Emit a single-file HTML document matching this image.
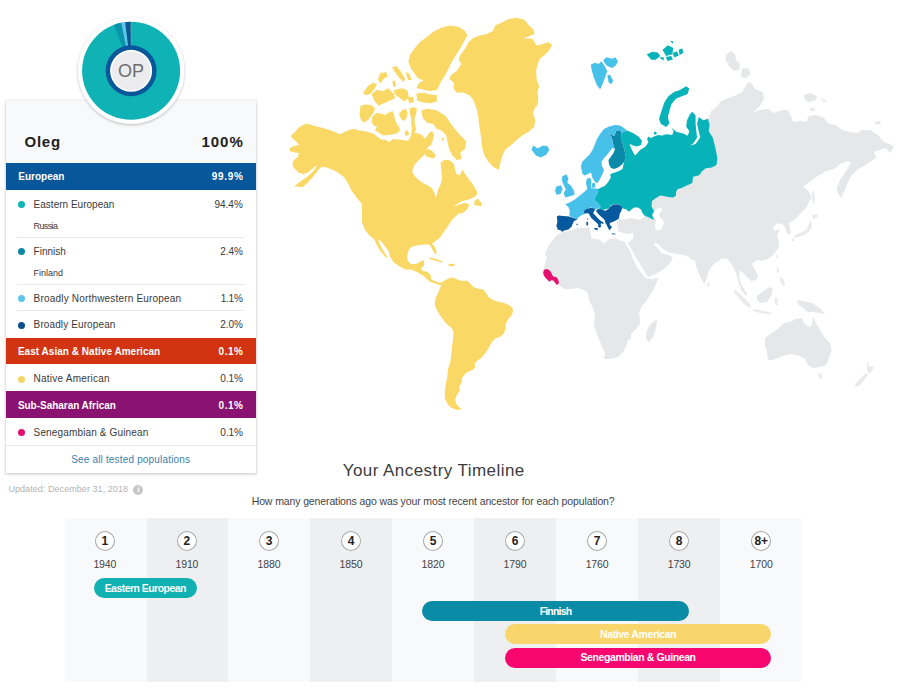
<!DOCTYPE html>
<html lang="en"><head><meta charset="utf-8"><title>Ancestry Composition</title>
<style>
html,body{margin:0;padding:0;background:#fff}
body{width:900px;height:692px;position:relative;overflow:hidden;font-family:"Liberation Sans",sans-serif}
.t{position:absolute;white-space:nowrap;line-height:20px;display:block}
.panel{position:absolute;background:#f8f9fa;box-shadow:0 0 0 1.5px rgba(0,0,0,.055),0 1.5px 3px rgba(0,0,0,.13)}
.rows{position:absolute;background:#fff}
.bar{position:absolute}
.sep{position:absolute;height:1px;background:#e9e9e9}
.dot{position:absolute;width:7px;height:7px;border-radius:50%}
.col{position:absolute}
.gen{position:absolute;width:20px;height:20px;border-radius:50%;background:#fff;box-shadow:inset 0 0 0 1px #a6a6a6}
.pill{position:absolute;height:20px;border-radius:10px}
.info{position:absolute;width:10.2px;height:10.2px;border-radius:50%;background:#c6c6c6;color:#fff;font-size:8px;font-weight:bold;line-height:10.2px;text-align:center;font-family:"Liberation Serif",serif}
svg.full{position:absolute;left:0;top:0}
</style></head>
<body>
<svg class="full" width="900" height="692" viewBox="0 0 900 692">
<defs><filter id="ds" x="-20%" y="-20%" width="140%" height="140%"><feGaussianBlur in="SourceAlpha" stdDeviation="1.6"/><feOffset dy="1"/><feComponentTransfer><feFuncA type="linear" slope="0.28"/></feComponentTransfer><feMerge><feMergeNode/><feMergeNode in="SourceGraphic"/></feMerge></filter></defs>
<g id="map"><path d="M306.5,123.5 L313.0,125.5 L321.0,127.5 L328.0,129.5 L335.0,132.0 L339.5,134.2 L343.0,132.8 L348.0,130.5 L352.0,129.2 L355.0,128.8 L357.5,130.0 L361.0,130.8 L366.0,131.5 L373.0,133.5 L377.5,136.8 L381.0,139.5 L386.0,140.0 L389.0,142.0 L393.0,139.0 L398.0,139.5 L403.0,140.0 L408.0,141.0 L410.5,137.0 L411.5,133.0 L412.0,128.0 L411.0,123.0 L411.5,119.0 L410.0,114.0 L409.5,108.5 L414.0,107.0 L417.0,109.0 L416.0,114.0 L414.5,119.0 L415.0,124.0 L416.0,129.0 L414.5,133.0 L419.0,133.5 L422.0,135.0 L425.0,139.0 L429.0,133.0 L432.0,131.0 L434.0,135.0 L433.0,140.0 L431.0,145.0 L428.0,147.0 L426.0,150.0 L424.0,155.0 L420.0,159.0 L415.0,164.0 L412.1,171.2 L414.9,176.6 L421.2,182.1 L427.4,185.2 L432.1,188.3 L434.4,193.0 L436.0,197.7 L438.2,189.3 L440.6,184.6 L442.1,178.4 L441.4,170.6 L440.6,162.5 L444.5,160.1 L449.2,160.0 L453.8,163.6 L454.6,166.7 L456.2,173.7 L460.1,175.3 L461.7,170.9 L462.4,169.8 L467.1,176.8 L471.8,183.1 L474.9,187.7 L477.3,192.4 L476.5,195.6 L473.4,197.4 L468.7,199.5 L462.4,201.0 L457.7,203.4 L453.8,206.5 L459.3,204.6 L465.6,202.7 L469.5,204.9 L467.1,209.6 L462.4,213.5 L460.1,212.7 L456.2,215.8 L451.5,220.5 L448.4,225.2 L445.3,229.9 L442.1,234.6 L439.8,238.0 L439.9,237.5 L435.2,241.4 L432.0,243.5 L434.2,246.0 L435.8,249.0 L436.8,252.0 L436.2,254.0 L434.8,253.6 L433.2,251.0 L431.6,248.0 L430.2,245.6 L428.8,244.6 L424.3,244.5 L418.0,245.3 L411.8,246.8 L408.7,249.9 L407.1,256.2 L407.9,260.9 L411.0,264.0 L416.5,264.0 L419.6,261.7 L424.3,260.1 L423.8,265.6 L421.2,268.7 L422.7,271.0 L427.4,271.8 L430.5,274.9 L431.3,279.6 L435.2,281.2 L439.9,282.7 L442.2,281.9 L443.3,281.2 L447.7,278.8 L452.0,277.5 L457.5,279.4 L462.1,280.9 L466.8,280.6 L469.9,283.3 L473.8,287.2 L478.5,288.7 L483.2,289.5 L486.3,293.4 L488.7,297.3 L494.1,300.4 L499.6,302.0 L505.8,303.6 L510.5,305.9 L513.2,309.8 L512.1,314.5 L508.2,319.2 L505.8,323.8 L505.5,329.3 L503.5,334.0 L499.6,337.1 L494.9,338.7 L491.0,343.4 L488.7,348.0 L485.6,352.7 L481.7,357.4 L477.7,360.5 L474.6,363.6 L475.4,367.5 L472.3,369.9 L468.4,371.5 L465.3,373.8 L462.1,378.0 L461.4,382.8 L459.0,387.5 L459.8,390.6 L456.7,395.3 L455.1,399.9 L456.7,404.6 L459.8,407.7 L462.1,409.0 L456.7,410.1 L451.2,407.7 L447.3,403.8 L445.0,398.4 L444.7,392.1 L445.8,384.3 L447.3,376.5 L448.1,368.7 L450.4,362.1 L451.2,354.3 L452.0,346.5 L453.1,338.7 L453.6,332.4 L452.0,328.5 L447.3,324.6 L443.4,319.9 L439.5,314.5 L436.4,309.0 L434.8,304.3 L435.6,298.1 L437.9,293.4 L440.3,287.2 L441.9,283.3 L441.5,285.1 L439.1,285.1 L435.2,283.5 L430.5,281.9 L427.4,279.6 L424.3,276.5 L419.6,273.4 L414.9,271.0 L410.2,269.5 L405.6,269.5 L399.3,266.3 L393.8,262.4 L389.9,256.2 L388.7,251.3 L385.3,247.0 L382.0,242.3 L380.0,240.3 L378.3,239.6 L378.7,241.3 L380.1,244.8 L382.1,248.8 L384.6,252.8 L387.1,256.5 L386.3,257.9 L383.3,254.6 L380.7,251.3 L378.0,247.3 L376.0,243.3 L374.5,239.6 L373.6,239.0 L368.9,235.1 L365.0,229.7 L361.9,221.9 L361.9,214.0 L362.0,204.0 L357.0,198.0 L351.0,190.0 L349.0,185.0 L344.0,177.0 L341.0,175.0 L337.0,172.0 L333.0,170.0 L328.0,168.0 L323.0,166.5 L320.0,168.0 L316.0,173.0 L312.0,178.0 L308.5,182.0 L303.0,187.0 L294.0,186.5 L301.0,181.0 L307.0,177.0 L312.0,172.5 L317.5,165.5 L315.0,166.5 L311.0,170.0 L307.0,173.0 L303.0,174.0 L298.5,172.5 L296.0,170.0 L293.0,167.0 L292.5,163.0 L294.5,159.5 L298.0,157.0 L299.0,153.0 L295.0,152.5 L290.5,151.5 L289.0,148.5 L294.0,146.0 L299.0,145.0 L297.0,142.0 L293.0,139.0 L290.5,136.0 L295.0,132.0 L298.0,128.5 L302.0,125.5Z" fill="#fad865"/>
<path d="M421.2,110.3 L427.4,108.7 L436.8,110.3 L446.1,116.5 L452.4,125.9 L460.2,135.3 L466.4,141.5 L464.9,149.3 L460.2,152.4 L461.7,158.7 L457.1,160.2 L452.4,155.6 L449.3,149.3 L447.7,143.1 L446.1,135.3 L441.5,130.6 L436.8,129.0 L433.6,124.3 L427.4,122.8 L422.7,118.1Z" fill="#fad865"/>
<path d="M360.5,106.0 L365.0,104.5 L371.0,105.0 L375.0,108.0 L374.0,112.0 L371.0,116.0 L368.0,120.0 L364.0,122.5 L361.0,120.0 L359.5,115.0Z" fill="#fad865"/>
<path d="M372.5,116.5 L376.0,113.0 L381.0,113.5 L385.0,115.0 L389.0,112.5 L392.5,111.0 L394.0,115.0 L395.0,120.0 L397.5,125.0 L400.0,128.0 L399.0,132.0 L395.0,134.0 L389.0,135.0 L383.0,135.5 L379.0,133.0 L375.0,130.0 L377.0,127.0 L373.0,125.0 L371.5,121.0Z" fill="#fad865"/>
<path d="M399.0,114.0 L402.0,110.0 L406.0,109.0 L407.5,113.0 L406.5,118.0 L404.0,121.0 L401.0,119.0Z" fill="#fad865"/>
<path d="M404.5,131.0 L408.0,130.5 L409.0,135.0 L405.5,136.0Z" fill="#fad865"/>
<path d="M425.0,150.3 L428.3,149.0 L432.3,151.0 L435.7,155.0 L434.3,158.3 L430.3,158.0 L426.3,156.3 L424.3,153.7Z" fill="#fad865"/>
<path d="M441.7,138.3 L444.0,138.0 L444.3,140.3 L442.0,140.7Z" fill="#fad865"/>
<path d="M363.1,93.0 L367.9,86.0 L373.5,82.5 L377.0,84.6 L373.5,90.2 L369.4,94.4 L365.1,95.0Z" fill="#fad865"/>
<path d="M371.5,94.0 L377.2,89.7 L382.7,91.2 L388.3,88.3 L393.8,94.0 L395.2,98.1 L389.7,100.8 L382.7,103.7 L378.5,105.7 L374.3,100.8Z" fill="#fad865"/>
<path d="M393.4,90.3 L401.8,88.3 L407.4,90.3 L408.8,97.3 L404.5,101.4 L399.0,97.3 L394.9,94.6Z" fill="#fad865"/>
<path d="M416.4,93.6 L423.6,92.7 L430.7,94.4 L436.9,95.3 L436.9,101.6 L430.7,103.3 L423.6,102.4 L417.3,100.7Z" fill="#fad865"/>
<path d="M407.7,97.3 L413.2,96.7 L414.0,102.2 L409.1,102.9Z" fill="#fad865"/>
<path d="M392.0,67.0 L396.9,66.3 L401.0,71.8 L405.1,78.8 L403.8,82.3 L398.9,77.5 L394.8,71.8Z" fill="#fad865"/>
<path d="M405.6,72.5 L409.0,73.3 L411.8,79.5 L408.3,80.3Z" fill="#fad865"/>
<path d="M380.1,73.0 L386.3,72.3 L387.7,76.5 L383.6,78.7 L380.7,83.4 L377.9,80.0Z" fill="#fad865"/>
<path d="M392.5,81.2 L395.2,80.5 L396.0,86.1 L393.2,86.7Z" fill="#fad865"/>
<path d="M410.2,54.4 L414.7,48.2 L420.0,42.0 L427.1,36.7 L434.2,31.3 L441.3,27.8 L450.2,25.6 L459.1,26.9 L464.4,30.4 L467.6,34.9 L464.4,41.1 L460.9,47.3 L456.4,54.4 L452.0,61.6 L448.4,68.7 L444.9,75.8 L441.3,81.1 L438.7,86.4 L436.9,90.0 L428.9,90.9 L420.9,89.1 L416.4,88.2 L419.1,82.9 L423.6,80.2 L418.2,78.4 L414.7,74.0 L411.1,68.7 L408.4,61.6Z" fill="#fad865"/>
<path d="M474.9,200.2 L478.0,198.7 L481.2,202.6 L481.9,206.5 L478.0,205.7 L474.1,204.9Z" fill="#fad865"/>
<path d="M429.0,257.7 L435.2,258.5 L441.5,260.9 L443.8,262.4 L439.9,262.1 L433.6,260.1 L429.7,259.3Z" fill="#fad865"/>
<path d="M448.5,263.7 L453.9,264.0 L455.5,265.6 L451.6,266.3 L448.5,265.6Z" fill="#fad865"/>
<path d="M468.9,41.7 L473.6,37.8 L479.8,35.4 L486.8,33.9 L493.1,30.8 L495.4,25.3 L502.4,22.2 L508.7,19.0 L516.5,17.8 L524.3,19.8 L528.2,24.5 L533.6,30.0 L534.4,33.9 L529.0,36.2 L522.7,38.6 L532.1,38.6 L536.8,45.6 L543.0,44.0 L547.7,42.1 L552.1,44.8 L549.3,50.3 L544.6,54.9 L539.9,58.8 L537.5,64.3 L536.0,72.1 L536.8,79.9 L539.1,86.2 L537.5,92.4 L538.3,98.6 L537.5,104.9 L535.2,107.2 L532.9,113.4 L535.2,119.7 L534.4,126.7 L529.0,131.4 L522.7,135.3 L516.5,139.9 L511.8,144.6 L505.6,149.3 L502.4,155.6 L500.1,163.4 L499.0,169.9 L493.8,167.3 L488.4,161.8 L484.5,155.6 L482.1,147.7 L481.4,139.9 L480.3,132.1 L479.0,124.3 L478.2,116.5 L476.7,108.7 L473.6,100.9 L473.6,100.2 L469.7,95.5 L463.4,92.4 L456.4,92.4 L453.3,87.7 L454.0,83.0 L449.4,79.1 L450.9,75.2 L457.2,70.6 L461.1,64.3 L458.7,59.6 L460.3,54.9 L465.0,48.7Z" fill="#fad865"/>
<path d="M708.0,118.7 L709.6,115.6 L711.2,110.9 L717.4,106.2 L720.5,101.5 L726.8,98.4 L736.1,95.3 L742.4,92.1 L745.5,85.9 L748.6,82.0 L751.7,83.6 L754.9,89.0 L762.7,92.1 L764.2,98.4 L759.5,106.2 L753.3,112.4 L760.0,110.0 L768.0,109.0 L774.0,113.0 L782.0,110.0 L788.0,110.0 L791.0,116.0 L793.0,122.0 L800.0,121.0 L806.0,122.0 L809.0,116.0 L816.0,115.0 L824.0,118.0 L829.0,124.0 L836.0,125.0 L842.0,130.0 L850.0,132.0 L858.0,133.0 L862.0,130.0 L870.0,130.0 L878.0,135.0 L884.0,142.0 L890.0,144.0 L894.0,147.0 L890.0,153.0 L886.0,148.0 L880.0,150.0 L874.0,152.0 L876.0,158.0 L870.0,162.0 L864.0,166.0 L858.0,169.0 L852.0,175.0 L848.0,182.0 L845.0,190.0 L841.0,198.0 L839.0,195.0 L837.0,190.0 L838.0,196.0 L837.0,188.0 L840.0,180.0 L844.0,174.0 L848.0,168.0 L851.0,162.4 L848.0,161.0 L840.0,164.0 L834.0,169.0 L826.0,171.0 L816.0,177.0 L808.0,183.0 L803.0,187.0 L808.0,190.0 L812.0,198.0 L810.0,200.0 L806.0,208.0 L800.0,214.0 L794.0,220.0 L789.0,223.0 L790.0,228.0 L791.0,233.0 L788.0,235.0 L786.0,230.0 L784.0,225.0 L778.0,223.0 L773.0,227.0 L775.0,231.0 L780.0,229.0 L777.0,236.0 L779.0,242.0 L778.0,248.0 L774.0,254.0 L768.0,259.0 L762.0,261.0 L758.0,260.0 L755.0,261.0 L752.0,264.0 L755.0,270.0 L758.0,275.0 L756.0,280.0 L751.0,281.0 L748.0,278.0 L744.0,274.0 L740.0,270.0 L739.0,276.0 L741.0,284.0 L744.0,289.0 L747.0,294.0 L746.0,296.0 L742.0,291.0 L739.0,284.0 L737.0,276.0 L734.0,268.0 L731.0,264.0 L728.0,259.0 L724.0,258.0 L720.0,259.0 L720.0,260.0 L714.0,264.0 L709.0,270.0 L707.0,278.0 L704.4,284.0 L703.0,282.0 L699.0,274.0 L696.0,266.0 L695.0,260.0 L692.0,260.0 L689.0,257.0 L684.0,255.0 L676.0,254.0 L668.0,252.0 L666.0,251.0 L662.0,248.0 L658.0,244.0 L655.0,243.0 L654.0,245.0 L658.0,248.0 L661.0,253.0 L665.0,254.0 L669.0,255.0 L673.0,258.0 L670.0,263.0 L664.0,269.0 L656.0,274.0 L648.0,277.0 L645.0,272.0 L640.0,264.0 L635.0,256.0 L632.8,251.5 L630.2,247.3 L628.2,244.0 L627.6,242.6 L630.0,242.0 L631.0,239.4 L633.5,239.0 L633.0,233.0 L629.0,234.0 L623.0,233.0 L618.5,231.5 L617.5,227.0 L617.0,223.0 L618.5,219.5 L619.5,218.0 L621.5,219.5 L626.0,219.5 L630.0,218.0 L634.0,218.7 L640.0,219.5 L643.0,218.5 L644.5,215.5 L648.0,212.0 L648.0,200.0 L670.0,190.0 L688.0,180.0 L700.0,165.0 L710.0,155.0 L708.0,140.0 L703.0,125.0Z" fill="#e6e7e9"/>
<path d="M545.0,254.3 L547.7,247.6 L553.1,239.5 L558.4,234.1 L562.5,232.1 L569.2,230.8 L575.9,228.8 L582.6,228.1 L589.4,227.4 L590.7,234.1 L591.4,238.2 L598.8,239.5 L604.1,243.5 L608.2,239.5 L614.9,238.2 L621.6,240.9 L625.0,241.5 L625.3,243.5 L627.8,247.5 L630.6,252.0 L632.6,258.0 L637.0,267.0 L643.0,275.0 L646.4,278.4 L652.0,279.0 L658.6,277.6 L656.0,284.0 L652.0,292.0 L647.0,300.0 L642.0,306.0 L639.0,312.0 L640.0,320.0 L640.0,324.0 L636.0,329.0 L631.0,334.0 L631.0,339.0 L628.0,340.0 L626.0,346.0 L623.0,352.0 L618.0,357.0 L610.0,359.0 L604.0,359.0 L605.0,353.0 L601.0,344.0 L597.0,334.0 L594.0,324.0 L595.0,314.0 L592.0,306.0 L589.0,300.0 L588.0,293.0 L584.0,290.0 L578.0,288.0 L572.0,289.0 L564.0,289.0 L559.0,285.0 L555.0,281.0 L550.0,278.0 L545.0,275.0 L543.0,270.0 L545.0,264.0 L547.0,257.0Z" fill="#e6e7e9"/>
<path d="M657.0,320.0 L656.0,328.0 L653.0,337.0 L649.0,342.0 L646.0,339.0 L646.4,332.0 L649.0,326.0 L653.0,322.0 L653.0,322.0 L657.0,319.6Z" fill="#e6e7e9"/>
<path d="M707.6,282.0 L709.6,284.0 L708.6,287.0 L707.2,285.0Z" fill="#e6e7e9"/>
<path d="M765.0,338.0 L770.0,334.0 L778.0,329.0 L784.0,323.0 L790.0,322.0 L795.0,319.0 L802.0,318.0 L804.0,323.0 L809.0,327.0 L812.0,325.0 L813.0,318.0 L813.4,317.0 L816.0,323.0 L820.0,330.0 L825.0,338.0 L830.0,343.0 L831.6,350.0 L829.0,358.0 L826.0,365.0 L820.0,367.0 L813.0,368.0 L808.0,365.0 L805.0,359.0 L800.0,356.0 L792.0,354.0 L786.0,355.0 L780.0,357.0 L773.0,360.0 L768.0,360.0 L767.0,352.0 L765.0,345.0Z" fill="#e6e7e9"/>
<path d="M818.0,374.0 L822.4,373.6 L822.0,378.0 L819.6,379.4Z" fill="#e9eaec"/>
<path d="M867.0,361.0 L869.0,366.0 L874.0,367.0 L872.0,371.0 L869.0,374.0 L867.0,370.0Z" fill="#e9eaec"/>
<path d="M868.0,374.0 L865.0,379.0 L860.0,385.0 L856.0,387.0 L855.0,384.0 L860.0,379.0 L865.0,374.0Z" fill="#e9eaec"/>
<path d="M813.0,190.0 L815.0,198.0 L814.0,206.0 L812.4,200.0 L812.0,192.0Z" fill="#e9eaec"/>
<path d="M812.0,215.0 L818.0,214.0 L817.0,218.0 L813.0,219.0Z" fill="#e9eaec"/>
<path d="M811.0,220.0 L812.0,226.0 L809.0,232.0 L804.0,235.0 L798.0,237.0 L794.0,238.0 L795.0,235.0 L800.0,233.0 L806.0,230.0 L809.0,224.0Z" fill="#e9eaec"/>
<path d="M793.0,238.0 L795.0,240.0 L793.0,242.0 L792.0,240.0Z" fill="#e9eaec"/>
<path d="M777.0,254.0 L778.4,257.0 L777.0,259.0 L776.2,256.6Z" fill="#e9eaec"/>
<path d="M777.0,266.0 L779.0,270.0 L778.0,274.0 L776.6,270.0Z" fill="#e9eaec"/>
<path d="M780.0,276.0 L784.0,280.0 L785.0,286.0 L782.0,285.0 L780.0,280.0Z" fill="#e9eaec"/>
<path d="M757.0,296.0 L762.0,292.0 L769.0,287.0 L773.0,289.0 L771.0,296.0 L767.0,302.0 L760.0,303.0 L757.0,300.0Z" fill="#e6e7e9"/>
<path d="M734.0,289.0 L740.0,294.0 L746.0,300.0 L751.0,305.0 L750.0,308.0 L744.0,304.0 L738.0,297.0 L734.0,292.0Z" fill="#e9eaec"/>
<path d="M753.0,309.0 L764.0,311.0 L772.0,313.0 L771.0,314.4 L760.0,313.0 L753.0,311.0Z" fill="#e9eaec"/>
<path d="M775.0,298.0 L779.0,299.0 L777.0,302.0 L779.0,306.0 L776.0,305.0 L774.4,301.0Z" fill="#e9eaec"/>
<path d="M797.0,300.0 L804.0,301.0 L812.0,303.0 L820.0,308.0 L825.0,314.0 L820.0,313.0 L814.0,312.0 L808.0,312.0 L803.0,308.0 L798.0,304.0Z" fill="#e6e7e9"/>
<path d="M804.0,95.0 L810.0,93.0 L817.0,96.0 L816.0,100.0 L809.0,102.0 L805.0,100.0Z" fill="#e6e7e9"/>
<path d="M820.0,98.0 L827.0,101.0 L824.0,102.0Z" fill="#e6e7e9"/>
<path d="M810.0,108.0 L814.0,108.0 L815.0,111.0 L811.0,111.0Z" fill="#e6e7e9"/>
<path d="M875.0,122.0 L880.0,121.0 L881.0,123.6 L876.0,124.4Z" fill="#e6e7e9"/>
<path d="M726.0,55.0 L731.0,51.0 L735.0,54.0 L736.0,60.0 L740.0,64.0 L739.0,70.0 L734.0,71.0 L729.0,66.0 L725.6,60.0Z" fill="#e6e7e9"/>
<path d="M742.0,69.0 L748.0,68.0 L751.0,74.0 L746.0,78.0 L741.0,77.0Z" fill="#e6e7e9"/>
<path d="M596.7,188.4 L598.1,189.3 L601.5,187.3 L604.8,185.9 L608.2,181.9 L610.9,177.2 L610.2,174.5 L612.2,173.2 L615.0,172.5 L619.0,171.0 L622.5,169.0 L624.0,162.0 L626.0,158.0 L625.0,153.0 L624.0,148.0 L622.5,143.0 L621.0,138.0 L621.5,133.0 L623.0,132.0 L627.0,130.5 L633.0,133.0 L639.0,137.0 L642.0,141.0 L641.0,145.0 L637.0,146.5 L633.0,145.5 L629.5,143.8 L631.0,148.0 L633.0,152.0 L635.0,155.5 L637.5,153.0 L640.0,150.0 L645.0,147.0 L647.0,144.5 L648.5,142.0 L647.0,139.0 L648.5,136.5 L651.0,138.0 L654.0,136.5 L658.0,135.0 L662.0,135.5 L665.0,135.0 L661.2,135.1 L667.5,134.3 L672.1,135.1 L673.7,131.2 L671.4,127.7 L676.8,131.9 L683.1,133.5 L687.7,135.8 L689.3,131.2 L686.2,126.5 L687.0,120.2 L690.1,114.0 L692.4,111.7 L695.6,115.6 L695.6,123.4 L696.3,131.2 L697.1,137.4 L693.2,143.6 L690.1,145.5 L695.6,144.0 L700.2,137.4 L698.7,131.2 L697.1,123.4 L698.7,117.1 L703.4,120.2 L708.0,118.7 L709.6,124.9 L708.8,131.2 L712.7,137.4 L715.1,146.8 L717.4,158.0 L717.3,159.7 L716.5,165.1 L711.8,167.5 L705.6,168.2 L701.7,171.4 L699.3,175.3 L693.1,176.8 L692.3,183.1 L686.8,185.4 L682.1,187.7 L677.5,189.3 L676.0,192.0 L676.0,195.5 L673.0,197.5 L668.0,197.0 L664.0,196.0 L660.0,195.5 L656.0,198.0 L652.0,201.0 L651.5,206.5 L654.0,211.0 L652.0,215.0 L654.0,220.0 L652.0,219.0 L648.0,217.0 L644.5,215.5 L642.5,213.0 L641.0,209.5 L638.0,207.5 L634.5,207.5 L632.0,209.0 L629.0,211.8 L626.0,209.2 L622.5,208.5 L621.5,207.5 L620.9,205.2 L616.2,203.9 L610.9,205.2 L608.2,208.6 L602.8,209.9 L598.8,208.9 L600.8,206.6 L598.1,203.2 L594.7,200.5 L595.4,196.5 L598.1,192.5 L596.7,188.4Z" fill="#07b2b8"/>
<path d="M686.2,86.2 L689.3,88.7 L687.4,94.3 L681.8,96.2 L675.9,98.7 L671.5,104.0 L669.3,111.2 L667.9,117.1 L669.3,123.4 L666.2,127.1 L660.9,124.0 L659.0,118.7 L661.2,112.1 L664.3,102.4 L668.4,96.2 L674.0,92.1 L679.9,90.0Z" fill="#07b2b8"/>
<path d="M646.8,54.4 L652.2,51.7 L657.6,52.5 L660.3,56.1 L655.7,59.8 L651.3,59.8Z" fill="#07b2b8"/>
<path d="M662.5,49.8 L667.9,45.3 L673.3,48.0 L672.3,54.2 L666.1,56.1Z" fill="#07b2b8"/>
<path d="M672.5,52.9 L677.1,51.2 L678.8,55.6 L674.4,57.5Z" fill="#07b2b8"/>
<path d="M678.7,49.5 L682.4,48.5 L683.3,53.1 L679.6,54.9Z" fill="#07b2b8"/>
<path d="M665.8,56.9 L671.2,56.1 L672.9,59.6 L667.5,61.1Z" fill="#07b2b8"/>
<path d="M659.2,57.8 L663.7,56.9 L663.7,60.5Z" fill="#07b2b8"/>
<path d="M670.2,41.1 L672.9,41.1 L672.9,43.8Z" fill="#07b2b8"/>
<path d="M590.7,64.7 L594.7,62.7 L598.7,64.0 L601.3,61.3 L604.7,66.0 L607.3,71.3 L605.3,76.7 L603.3,82.0 L601.3,87.3 L600.0,89.3 L596.7,84.7 L594.0,78.0 L592.0,71.3Z" fill="#47c0ea"/>
<path d="M603.3,60.0 L606.7,57.3 L612.0,58.7 L615.3,57.3 L618.0,61.3 L616.0,65.3 L612.0,68.0 L607.3,66.0 L604.7,63.3Z" fill="#47c0ea"/>
<path d="M607.3,75.3 L610.0,74.7 L613.3,80.7 L611.3,84.0 L608.7,82.7Z" fill="#47c0ea"/>
<path d="M608.0,133.0 L611.0,134.5 L614.5,136.0 L616.0,131.0 L620.0,130.0 L621.5,133.0 L621.0,138.0 L622.5,143.0 L624.0,148.0 L625.0,153.0 L626.0,158.0 L624.0,162.0 L621.5,165.0 L618.0,167.5 L614.0,169.0 L611.0,168.0 L609.0,164.5 L608.5,160.0 L611.0,156.5 L613.5,153.0 L615.0,149.0 L613.5,146.0 L612.5,141.0 L611.5,137.0Z" fill="#0a8aa8"/>
<path d="M604.0,129.0 L609.0,126.5 L615.0,125.0 L620.0,125.5 L624.0,128.0 L627.0,130.5 L623.0,132.0 L621.5,133.0 L620.0,130.0 L616.0,131.0 L614.5,136.0 L611.0,134.5 L608.0,133.0 L611.5,137.0 L612.5,141.0 L613.5,146.0 L615.0,149.0 L612.5,148.0 L610.0,151.0 L607.0,155.0 L604.0,158.0 L601.5,162.0 L602.0,166.0 L604.0,170.0 L602.5,174.0 L600.0,179.0 L597.5,183.0 L595.0,182.0 L592.5,178.0 L591.0,172.5 L588.0,174.0 L585.0,175.5 L582.5,174.0 L581.0,167.0 L582.0,162.0 L586.0,158.0 L590.0,154.0 L593.0,149.0 L595.0,144.0 L597.0,139.0 L600.0,134.0Z" fill="#47c0ea"/>
<path d="M654.0,132.0 L656.5,132.0 L656.5,134.5 L654.0,134.5Z" fill="#07b2b8"/>
<path d="M562.5,175.9 L566.5,174.5 L568.5,178.5 L567.2,182.6 L570.5,185.3 L573.9,190.6 L574.6,194.7 L570.5,196.0 L565.2,197.4 L563.8,193.3 L565.8,189.3 L563.8,185.3 L561.8,179.9Z" fill="#47c0ea"/>
<path d="M556.4,186.6 L561.1,185.3 L562.5,189.3 L560.5,194.0 L556.4,194.7 L555.1,190.6Z" fill="#47c0ea"/>
<path d="M531.3,149.3 L533.6,145.4 L537.5,148.5 L543.0,145.4 L547.7,146.2 L549.3,150.1 L546.1,154.8 L540.7,157.4 L536.0,155.6 L533.6,152.4Z" fill="#47c0ea"/>
<path d="M591.8,183.3 L595.0,182.9 L595.4,187.0 L592.3,188.3Z" fill="#47c0ea"/>
<path d="M569.2,215.6 L569.9,211.3 L568.5,207.3 L565.2,203.9 L568.5,203.0 L571.9,201.2 L575.2,199.2 L578.6,196.5 L582.0,193.8 L585.3,191.1 L587.3,188.7 L586.0,183.6 L586.7,178.9 L590.0,177.6 L591.5,180.9 L591.0,185.6 L591.4,188.2 L596.7,188.4 L598.1,192.5 L595.4,196.5 L594.7,200.5 L598.1,203.2 L600.8,206.6 L598.8,208.6 L594.7,209.3 L591.4,207.3 L586.7,209.3 L584.0,210.6 L584.7,214.0 L581.3,215.3 L577.9,218.0 L577.3,219.4 L573.2,217.7Z" fill="#47c0ea"/>
<path d="M557.0,216.2 L559.2,215.5 L562.8,216.0 L566.8,216.2 L570.4,216.7 L573.1,218.0 L575.8,218.7 L577.4,219.1 L575.8,220.2 L574.0,221.1 L573.1,222.9 L572.2,224.7 L571.8,226.5 L570.0,227.9 L568.6,229.4 L565.9,230.1 L563.2,231.0 L562.3,231.9 L561.0,230.6 L558.8,229.7 L557.4,229.4 L557.2,227.4 L556.3,226.1 L557.0,223.8 L557.4,221.1 L557.0,218.5Z" fill="#07599e"/>
<path d="M576.5,223.8 L577.8,223.8 L577.8,225.0 L576.5,225.0Z" fill="#07599e"/>
<path d="M584.0,210.7 L586.0,209.3 L589.3,208.3 L592.0,207.7 L594.3,208.7 L595.3,210.0 L593.9,211.3 L593.3,213.3 L595.1,215.2 L596.8,217.1 L598.8,219.3 L601.3,221.3 L603.7,222.5 L603.2,223.9 L601.0,223.3 L600.7,225.0 L601.3,226.5 L599.8,227.7 L598.1,226.9 L598.3,224.8 L596.9,223.0 L594.6,221.0 L592.6,219.3 L590.9,217.6 L589.7,215.2 L588.8,213.5 L586.7,213.3 L584.7,213.7 L584.0,212.3Z" fill="#07599e"/>
<path d="M593.7,228.3 L596.0,228.0 L598.0,228.3 L597.3,230.3 L595.3,229.7Z" fill="#07599e"/>
<path d="M586.3,222.0 L588.0,221.7 L588.1,225.3 L586.5,225.7Z" fill="#07599e"/>
<path d="M587.0,218.0 L588.0,217.9 L588.0,220.0 L587.1,220.0Z" fill="#47c0ea"/>
<path d="M596.0,211.0 L597.3,209.3 L600.0,209.0 L602.7,210.0 L605.3,210.7 L608.0,209.3 L610.0,206.7 L612.7,205.0 L616.0,204.3 L619.3,204.7 L621.7,206.3 L622.0,208.7 L621.3,211.0 L620.0,213.3 L619.3,216.0 L618.7,218.7 L616.7,220.0 L614.3,221.3 L612.0,222.3 L610.0,222.7 L609.7,224.3 L610.7,226.0 L612.3,227.0 L611.0,228.0 L610.0,230.3 L608.7,229.3 L607.7,227.3 L606.7,225.0 L605.3,222.7 L604.7,220.0 L602.7,218.0 L600.0,215.7 L597.7,213.3Z" fill="#07599e"/>
<path d="M612.0,233.3 L615.5,233.8 L615.5,234.6 L612.0,234.2Z" fill="#07599e"/>
<path d="M543.1,272.2 L544.2,269.7 L546.7,268.9 L549.2,270.0 L551.1,272.2 L552.2,275.0 L553.9,276.9 L556.1,276.7 L557.8,278.9 L558.9,281.7 L558.3,284.2 L556.7,284.7 L555.0,282.8 L553.3,280.6 L551.1,280.3 L549.4,281.7 L547.2,279.4 L545.0,277.2 L543.6,275.0Z" fill="#e8106f"/>
<path d="M654.5,212.0 L657.0,208.5 L661.0,208.0 L662.5,210.0 L660.0,213.0 L659.0,216.0 L662.0,219.0 L664.0,222.0 L663.0,226.0 L661.5,229.5 L658.0,230.5 L655.5,229.0 L655.0,225.0 L656.0,221.0 L654.5,217.0 L653.0,214.0Z" fill="#ffffff"/></g>
</svg>
<div class="panel" style="left:6px;top:101px;width:250.3px;height:371.8px"></div>
<div class="rows" style="left:6px;top:190.0px;width:250.3px;height:282.8px"></div>
<div class="bar" style="left:6px;top:163.1px;width:250.3px;height:26.900000000000006px;background:#07579a"></div>
<div class="bar" style="left:6px;top:337.7px;width:250.3px;height:26.69999999999999px;background:#d23310"></div>
<div class="bar" style="left:6px;top:391.1px;width:250.3px;height:27.19999999999999px;background:#8a1271"></div>
<div class="sep" style="left:17px;top:236.8px;width:227px"></div>
<div class="sep" style="left:17px;top:283.8px;width:227px"></div>
<div class="sep" style="left:17px;top:310.2px;width:227px"></div>
<div class="sep" style="left:6px;top:444.9px;width:250.3px"></div>
<span class="t" style="left:24.60px;top:131.50px;font-size:15px;color:#222;font-weight:bold;letter-spacing:0.720px;">Oleg</span>
<span class="t" style="left:201.40px;top:131.50px;font-size:15px;color:#222;font-weight:bold;letter-spacing:1.012px;">100%</span>
<span class="t" style="left:18.30px;top:167.10px;font-size:10px;color:#fff;font-weight:bold;">European</span>
<span class="t" style="left:211.70px;top:167.10px;font-size:10px;color:#fff;font-weight:bold;letter-spacing:0.736px;">99.9%</span>
<div class="dot" style="left:17.5px;top:201.1px;background:#10b3b5"></div>
<span class="t" style="left:33.60px;top:194.80px;font-size:10px;color:#3a3a3a;letter-spacing:0.012px;">Eastern European</span>
<span class="t" style="left:214.40px;top:194.80px;font-size:10px;color:#3a3a3a;letter-spacing:0.011px;">94.4%</span>
<span class="t" style="left:33.60px;top:216.40px;font-size:9px;color:#3a3a3a;letter-spacing:-0.642px;">Russia</span>
<div class="dot" style="left:17.5px;top:248.0px;background:#0b87a3"></div>
<span class="t" style="left:33.60px;top:241.60px;font-size:10px;color:#3a3a3a;letter-spacing:0.010px;">Finnish</span>
<span class="t" style="left:220.20px;top:241.60px;font-size:10px;color:#3a3a3a;letter-spacing:-0.064px;">2.4%</span>
<span class="t" style="left:33.60px;top:263.40px;font-size:9px;color:#3a3a3a;">Finland</span>
<div class="dot" style="left:17.5px;top:294.8px;background:#5fc6ea"></div>
<span class="t" style="left:33.60px;top:288.60px;font-size:10px;color:#3a3a3a;letter-spacing:0.189px;">Broadly Northwestern European</span>
<span class="t" style="left:220.80px;top:288.60px;font-size:10px;color:#3a3a3a;letter-spacing:-0.264px;">1.1%</span>
<div class="dot" style="left:17.5px;top:321.5px;background:#0b4f8a"></div>
<span class="t" style="left:33.60px;top:315.30px;font-size:10px;color:#3a3a3a;letter-spacing:0.116px;">Broadly European</span>
<span class="t" style="left:220.20px;top:315.30px;font-size:10px;color:#3a3a3a;letter-spacing:-0.064px;">2.0%</span>
<span class="t" style="left:17.90px;top:341.70px;font-size:10px;color:#fff;font-weight:bold;letter-spacing:0.028px;">East Asian &amp; Native American</span>
<span class="t" style="left:218.50px;top:341.70px;font-size:10px;color:#fff;font-weight:bold;letter-spacing:0.569px;">0.1%</span>
<div class="dot" style="left:17.5px;top:375.5px;background:#f3d667"></div>
<span class="t" style="left:33.60px;top:369.20px;font-size:10px;color:#3a3a3a;letter-spacing:0.228px;">Native American</span>
<span class="t" style="left:220.20px;top:369.20px;font-size:10px;color:#3a3a3a;letter-spacing:-0.064px;">0.1%</span>
<span class="t" style="left:17.90px;top:395.50px;font-size:10px;color:#fff;font-weight:bold;letter-spacing:-0.030px;">Sub-Saharan African</span>
<span class="t" style="left:218.50px;top:395.50px;font-size:10px;color:#fff;font-weight:bold;letter-spacing:0.569px;">0.1%</span>
<div class="dot" style="left:17.5px;top:429.1px;background:#e3106f"></div>
<span class="t" style="left:33.60px;top:422.70px;font-size:10px;color:#3a3a3a;letter-spacing:0.147px;">Senegambian &amp; Guinean</span>
<span class="t" style="left:220.20px;top:422.70px;font-size:10px;color:#3a3a3a;letter-spacing:-0.064px;">0.1%</span>
<span class="t" style="left:71.20px;top:449.50px;font-size:10px;color:#3a7fae;letter-spacing:0.171px;">See all tested populations</span>
<span class="t" style="left:8.40px;top:479.10px;font-size:9px;color:#b3b3b3;letter-spacing:0.061px;">Updated: December 31, 2018</span>
<div class="info" style="left:133.2px;top:484.6px"><span>i</span></div>
<div class="col" style="left:64.60px;top:518px;width:82.20px;height:164.20000000000005px;background:#f8f9fb"></div>
<div class="col" style="left:146.50px;top:518px;width:82.20px;height:164.20000000000005px;background:#eeeff1"></div>
<div class="col" style="left:228.40px;top:518px;width:82.20px;height:164.20000000000005px;background:#f8f9fb"></div>
<div class="col" style="left:310.30px;top:518px;width:82.20px;height:164.20000000000005px;background:#eeeff1"></div>
<div class="col" style="left:392.20px;top:518px;width:82.20px;height:164.20000000000005px;background:#f8f9fb"></div>
<div class="col" style="left:474.10px;top:518px;width:82.20px;height:164.20000000000005px;background:#eeeff1"></div>
<div class="col" style="left:556.00px;top:518px;width:82.20px;height:164.20000000000005px;background:#f8f9fb"></div>
<div class="col" style="left:637.90px;top:518px;width:82.20px;height:164.20000000000005px;background:#eeeff1"></div>
<div class="col" style="left:719.80px;top:518px;width:82.20px;height:164.20000000000005px;background:#f8f9fb"></div>
<div class="gen" style="left:94.90px;top:530.80px"></div>
<span class="t" style="left:101.56px;top:531.20px;font-size:12px;color:#222;font-weight:bold;">1</span>
<span class="t" style="left:93.40px;top:553.50px;font-size:10.5px;color:#444;letter-spacing:-0.120px;">1940</span>
<div class="gen" style="left:176.94px;top:530.80px"></div>
<span class="t" style="left:183.60px;top:531.20px;font-size:12px;color:#222;font-weight:bold;">2</span>
<span class="t" style="left:175.44px;top:553.50px;font-size:10.5px;color:#444;letter-spacing:-0.120px;">1910</span>
<div class="gen" style="left:258.98px;top:530.80px"></div>
<span class="t" style="left:265.64px;top:531.20px;font-size:12px;color:#222;font-weight:bold;">3</span>
<span class="t" style="left:257.48px;top:553.50px;font-size:10.5px;color:#444;letter-spacing:-0.120px;">1880</span>
<div class="gen" style="left:341.02px;top:530.80px"></div>
<span class="t" style="left:347.68px;top:531.20px;font-size:12px;color:#222;font-weight:bold;">4</span>
<span class="t" style="left:339.52px;top:553.50px;font-size:10.5px;color:#444;letter-spacing:-0.120px;">1850</span>
<div class="gen" style="left:423.06px;top:530.80px"></div>
<span class="t" style="left:429.72px;top:531.20px;font-size:12px;color:#222;font-weight:bold;">5</span>
<span class="t" style="left:421.56px;top:553.50px;font-size:10.5px;color:#444;letter-spacing:-0.120px;">1820</span>
<div class="gen" style="left:505.10px;top:530.80px"></div>
<span class="t" style="left:511.76px;top:531.20px;font-size:12px;color:#222;font-weight:bold;">6</span>
<span class="t" style="left:503.60px;top:553.50px;font-size:10.5px;color:#444;letter-spacing:-0.120px;">1790</span>
<div class="gen" style="left:587.14px;top:530.80px"></div>
<span class="t" style="left:593.80px;top:531.20px;font-size:12px;color:#222;font-weight:bold;">7</span>
<span class="t" style="left:585.64px;top:553.50px;font-size:10.5px;color:#444;letter-spacing:-0.120px;">1760</span>
<div class="gen" style="left:669.18px;top:530.80px"></div>
<span class="t" style="left:675.84px;top:531.20px;font-size:12px;color:#222;font-weight:bold;">8</span>
<span class="t" style="left:667.68px;top:553.50px;font-size:10.5px;color:#444;letter-spacing:-0.120px;">1730</span>
<div class="gen" style="left:751.22px;top:530.80px"></div>
<span class="t" style="left:754.38px;top:531.20px;font-size:12px;color:#222;font-weight:bold;">8+</span>
<span class="t" style="left:749.72px;top:553.50px;font-size:10.5px;color:#444;letter-spacing:-0.120px;">1700</span>
<div class="pill" style="left:94.4px;top:578.2px;width:102.29999999999998px;background:#12b1b1"></div>
<span class="t" style="left:104.65px;top:578.00px;font-size:10.5px;color:#fff;font-weight:bold;letter-spacing:-0.538px;">Eastern European</span>
<div class="pill" style="left:422.4px;top:601.2px;width:267.0px;background:#0a8ca6"></div>
<span class="t" style="left:539.70px;top:601.00px;font-size:10.5px;color:#fff;font-weight:bold;letter-spacing:-0.822px;">Finnish</span>
<div class="pill" style="left:505.3px;top:624.3px;width:265.90000000000003px;background:#f8d66b"></div>
<span class="t" style="left:600.00px;top:624.10px;font-size:10.5px;color:#fff;font-weight:bold;letter-spacing:-0.386px;">Native American</span>
<div class="pill" style="left:505.3px;top:647.5px;width:265.90000000000003px;background:#f8066f"></div>
<span class="t" style="left:580.50px;top:647.30px;font-size:10.5px;color:#fff;font-weight:bold;letter-spacing:-0.410px;">Senegambian &amp; Guinean</span>
<span class="t" style="left:342.75px;top:460.50px;font-size:17px;color:#3c3c3c;letter-spacing:0.438px;">Your Ancestry Timeline</span>
<span class="t" style="left:251.70px;top:490.80px;font-size:10.5px;color:#444;letter-spacing:-0.119px;">How many generations ago was your most recent ancestor for each population?</span>
<svg class="full" width="900" height="692" viewBox="0 0 900 692" style="pointer-events:none">
<defs><filter id="ds2" x="-20%" y="-20%" width="140%" height="140%"><feGaussianBlur in="SourceAlpha" stdDeviation="1.6"/><feOffset dy="1"/><feComponentTransfer><feFuncA type="linear" slope="0.28"/></feComponentTransfer><feMerge><feMergeNode/><feMergeNode in="SourceGraphic"/></feMerge></filter></defs>
<circle cx="131.1" cy="70.8" r="53" fill="#fff" filter="url(#ds2)"/>
<circle cx="131.1" cy="70.8" r="49" fill="#10b3b5"/>
<path d="M114.21,24.80 A49,49 0 0 1 121.31,22.79 L126.31,47.28 A24,24 0 0 0 122.83,48.27 Z" fill="#0b93ab"/>
<path d="M121.31,22.79 A49,49 0 0 1 125.26,22.15 L128.24,46.97 A24,24 0 0 0 126.31,47.28 Z" fill="#5fc6ea"/>
<path d="M125.26,22.15 A49,49 0 0 1 130.79,21.80 L130.95,46.80 A24,24 0 0 0 128.24,46.97 Z" fill="#0b5797"/>
<path d="M130.79,21.80 A49,49 0 0 1 131.10,21.80 L131.10,46.80 A24,24 0 0 0 130.95,46.80 Z" fill="#f3d667"/>
<circle cx="131.1" cy="70.8" r="25.5" fill="#07579a"/>
<circle cx="131.1" cy="70.8" r="21" fill="#fff"/>
<circle cx="131.1" cy="70.8" r="19.3" fill="#ececee"/>
<text x="131.1" y="77.3" text-anchor="middle" font-family="Liberation Sans, sans-serif" font-size="18" fill="#6e6e6e">OP</text>
</svg>
</body></html>
